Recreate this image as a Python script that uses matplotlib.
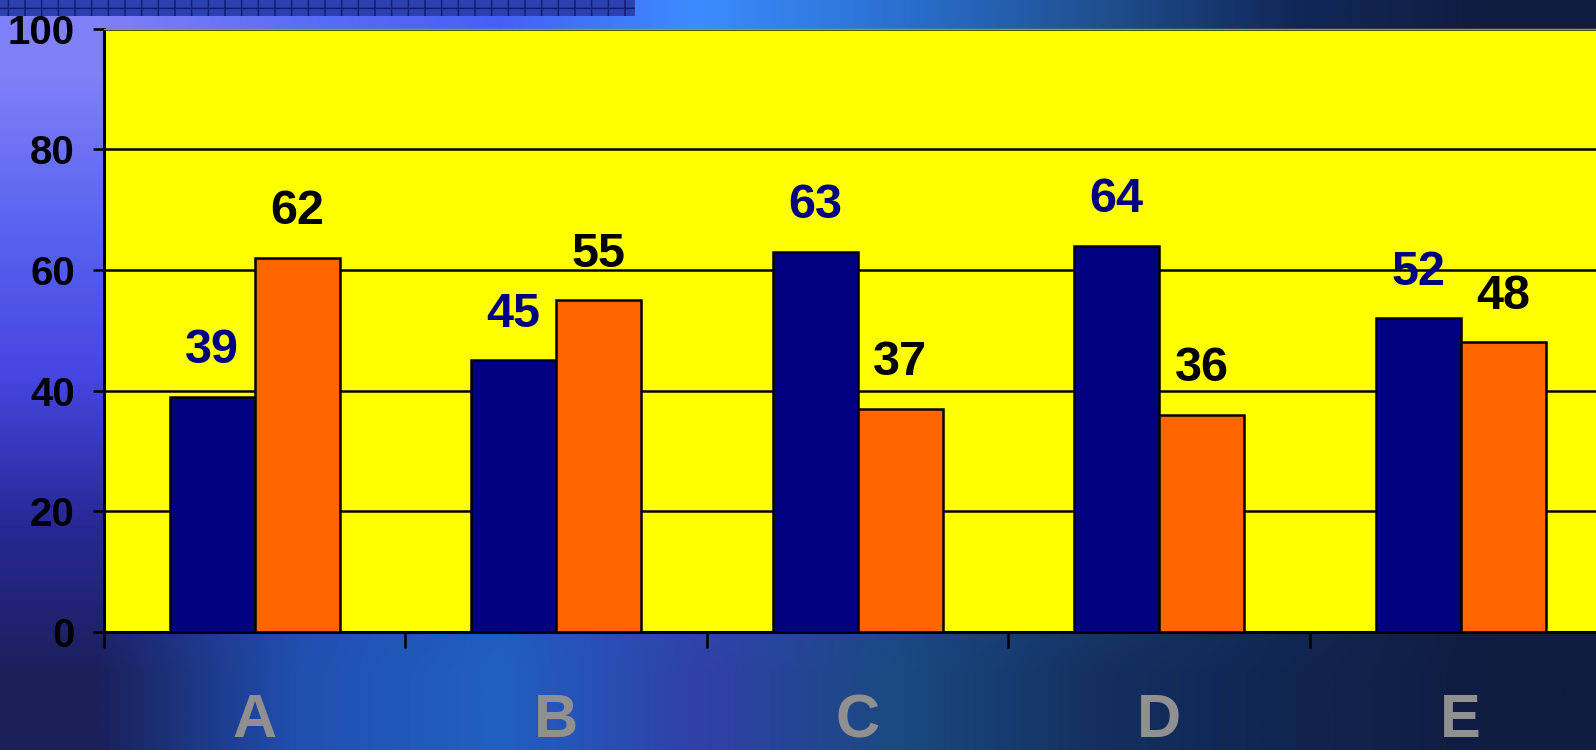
import numpy as np
import matplotlib.pyplot as plt
from matplotlib.patches import Rectangle

categorias = ["A", "B", "C", "D", "E"]
serie_azul = [39, 45, 63, 64, 52]
serie_laranja = [62, 55, 37, 36, 48]
y_ticks = [0, 20, 40, 60, 80, 100]

FONTE = ["Liberation Sans Narrow", "Liberation Sans", "DejaVu Sans"]
plt.rcParams["font.family"] = FONTE
plt.rcParams["font.weight"] = "bold"

fig = plt.figure(figsize=(15.96, 7.5), dpi=100)

# fundo em degradê azul (tipo slide)
fundo = np.array([
    [[128, 128, 248], [90, 110, 245], [70, 95, 245], [60, 140, 255], [42, 112, 208], [32, 80, 144], [16, 40, 88], [16, 28, 64]],
    [[90, 100, 240], [70, 120, 240], [60, 130, 250], [50, 130, 235], [40, 100, 200], [30, 80, 160], [20, 50, 110], [16, 30, 70]],
    [[70, 70, 225], [50, 90, 210], [45, 100, 215], [40, 95, 205], [35, 80, 180], [25, 70, 140], [20, 50, 100], [16, 30, 70]],
    [[40, 40, 150], [35, 75, 175], [35, 85, 190], [45, 75, 180], [30, 70, 150], [25, 65, 120], [18, 45, 90], [16, 28, 64]],
    [[26, 32, 90], [32, 80, 176], [32, 96, 192], [48, 64, 168], [26, 74, 128], [20, 48, 96], [16, 36, 80], [16, 28, 64]],
]) / 255.0
ax_bg = fig.add_axes([0, 0, 1, 1], zorder=-2)
ax_bg.imshow(fundo, aspect="auto", interpolation="bilinear", extent=[0, 1, 0, 1])
ax_bg.set_axis_off()

# faixa quadriculada no topo
fig.patches.append(Rectangle((0, 1 - 16 / 750), 635 / 1596, 16 / 750, transform=fig.transFigure,
                             facecolor="#2c40b0", edgecolor="#101a70", hatch="+", linewidth=0, zorder=-1))

ax = fig.add_axes([104 / 1596, 118 / 750, 1507.5 / 1596, 603.5 / 750])
ax.set_facecolor("#FFFF00")

x = np.arange(len(categorias))
largura = 0.282
barras_azul = ax.bar(x - largura / 2, serie_azul, largura, color="#000080", edgecolor="black", linewidth=1.8, zorder=3)
barras_lar = ax.bar(x + largura / 2, serie_laranja, largura, color="#FF6600", edgecolor="black", linewidth=1.8, zorder=3)

for barra, v in zip(barras_azul, serie_azul):
    ax.annotate(str(v), (barra.get_x() + barra.get_width() / 2, v), xytext=(0, 24),
                textcoords="offset points", ha="center", va="baseline",
                fontsize=35, fontweight="bold", color="#000080", zorder=4)
for barra, v in zip(barras_lar, serie_laranja):
    ax.annotate(str(v), (barra.get_x() + barra.get_width() / 2, v), xytext=(0, 24),
                textcoords="offset points", ha="center", va="baseline",
                fontsize=35, fontweight="bold", color="black", zorder=4)

ax.set_xlim(-0.5, len(categorias) - 0.5)
ax.set_ylim(0, 100)
ax.set_yticks(y_ticks)
ax.set_yticklabels([str(t) for t in y_ticks], fontsize=29, fontweight="bold")
ax.yaxis.grid(True, color="black", linewidth=1.8, zorder=1)
ax.set_axisbelow(True)

ax.set_xticks(x)
ax.set_xticklabels(categorias, fontsize=44, fontweight="bold", color="#909090")
ax.set_xticks(np.arange(-0.5, len(categorias)), minor=True)
ax.tick_params(axis="x", which="major", length=0, pad=44)
ax.tick_params(axis="x", which="minor", length=11.5, width=1.8, direction="out")
ax.tick_params(axis="y", length=8, width=1.8, pad=13, direction="out")

ax.spines["right"].set_visible(False)
ax.spines["top"].set_color("#9a9a30")
ax.spines["top"].set_linewidth(1.0)
ax.spines["left"].set_linewidth(2.2)
ax.spines["bottom"].set_linewidth(2.2)

fig.savefig("out.png", dpi=100)
